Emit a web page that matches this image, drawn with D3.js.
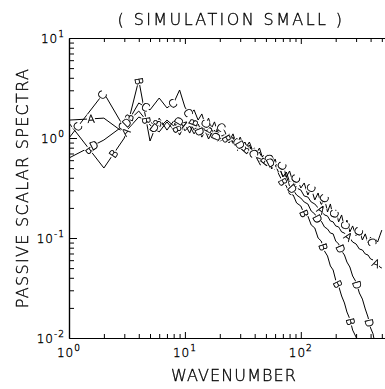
<!DOCTYPE html>
<html><head><meta charset="utf-8">
<script src="https://cdn.jsdelivr.net/npm/d3@7"></script>
<style>
html,body{margin:0;padding:0;background:#fff;overflow:hidden}
text{font-family:"DejaVu Sans",sans-serif;font-weight:200;fill:#000;stroke:#000;stroke-width:0.35px}
</style>
</head><body>
<svg id="c" width="385" height="389"></svg>
<script>
// ---------- data ----------
const wavenumber = [1,2,3,4,5,6,7,8,9,10,11,12,13,14,15,16,17,18,19,20,
  22,24,26,28,30,33,36,40,44,48,52,56,60,65,70,75,80,86,92,
  100,107,115,123,132,141,150,160,170,180,190,200,212,225,238,250,265,280,300,320,340,360,380,400,420,440,460,480,500];

const seriesA = [1.51,1.58,1.12,1.62,1.45,1.26,1.51,1.32,1.58,1.29,1.45,1.20,1.38,1.15,1.29,1.07,1.26,1.05,1.20,1.02,
  0.955,1.10,0.871,1.00,0.813,0.912,0.708,0.794,0.603,0.676,0.525,0.603,0.479,0.525,0.407,0.457,0.363,0.398,0.316,
  0.302,0.263,0.257,0.229,0.219,0.200,0.191,0.170,0.166,0.148,0.145,0.132,0.129,0.115,0.112,0.105,0.100,0.0912,0.0871,0.0776,0.0759,0.0692,0.0676,0.0617,0.0603,0.0562,0.0550,0.0513,0.0501];

const seriesB = [1.41,0.501,1.00,3.80,0.933,1.58,1.20,1.48,1.07,1.38,1.12,1.45,1.05,1.32,1.10,1.26,1.00,1.20,1.05,1.12,
  1.07,0.891,1.02,0.832,0.955,0.759,0.851,0.646,0.724,0.562,0.631,0.490,0.537,0.427,0.363,0.331,0.275,0.269,0.224,
  0.209,0.174,0.166,0.135,0.126,0.100,0.0933,0.0741,0.0661,0.0525,0.0479,0.0380,0.0331,0.0263,0.0224,0.0182,0.0155,0.0120,0.0102,0.00759,0.00603];

const seriesC = [1.00,2.82,1.26,2.24,1.91,2.51,2.00,2.24,3.02,2.04,1.70,1.91,1.51,1.74,1.35,1.58,1.26,1.45,1.18,1.32,
  1.18,0.912,1.10,0.851,1.02,0.776,0.912,0.661,0.794,0.575,0.692,0.501,0.617,0.457,0.550,0.407,0.468,0.355,0.407,
  0.316,0.355,0.269,0.316,0.240,0.282,0.214,0.251,0.182,0.219,0.162,0.191,0.145,0.170,0.126,0.151,0.115,0.132,0.105,0.120,0.0955,0.110,0.0891,0.102,0.0851,0.0977,0.0912,0.105,0.120];

const seriesD = [0.631,0.955,1.35,1.86,1.35,1.15,1.45,1.20,1.51,1.18,1.32,1.10,1.26,1.02,1.18,0.977,1.12,0.955,1.10,0.933,
  0.977,1.05,0.912,0.977,0.851,0.871,0.794,0.741,0.646,0.646,0.550,0.575,0.490,0.501,0.417,0.417,0.331,0.302,0.269,
  0.251,0.229,0.219,0.186,0.174,0.151,0.148,0.129,0.123,0.112,0.110,0.0933,0.0871,0.0741,0.0676,0.0575,0.0513,0.0417,0.0363,0.0282,0.0245,0.0195,0.0162,0.0126,0.0110,0.00832];

const seriesNames = ["A","B","C","D"];
const xMajorTicks = [1,10,100];
const xMajorExponents = ["0","1","2"];
const yMajorTicks = [0.01,0.1,1,10];
const yMajorExponents = ["-2","-1","0","1"];
const titleText = "( SIMULATION SMALL )";
const xLabelText = "WAVENUMBER";
const yLabelText = "PASSIVE SCALAR SPECTRA";

// ---------- layout ----------
const L = 69, T = 38, B = 338, R = 397;
const x = d3.scaleLog().domain([1, Math.pow(10, 2.83)]).range([L, R]);
const y = d3.scaleLog().domain([0.01, 10]).range([B, T]);
const svg = d3.select("#c");

function minors(decades, lo, hi){
  const out=[];
  decades.forEach(d=>{for(let j=2;j<=9;j++){const v=d*j; if(v>lo&&v<hi) out.push(v);}});
  return out;
}
const xMinor = minors([1,10,100],1,Math.pow(10,2.83));
const yMinor = minors([0.01,0.1,1],0.01,10);

function styleAxis(g){
  g.selectAll("path.domain").attr("stroke","#000").attr("stroke-width",1.2);
  g.selectAll(".tick line").attr("stroke","#000").attr("stroke-width",1);
  g.selectAll(".tick text").remove();
}
svg.append("g").attr("transform",`translate(0,${B})`)
  .call(d3.axisBottom(x).tickValues(xMinor).tickSizeInner(-4).tickSizeOuter(0).tickFormat("")).call(styleAxis);
svg.append("g").attr("transform",`translate(0,${B})`)
  .call(d3.axisBottom(x).tickValues(xMajorTicks.slice(1)).tickSizeInner(-6).tickSizeOuter(0).tickFormat("")).call(styleAxis);
svg.append("g").attr("transform",`translate(0,${T})`)
  .call(d3.axisTop(x).tickValues(xMinor).tickSizeInner(-4).tickSizeOuter(0).tickFormat("")).call(styleAxis);
svg.append("g").attr("transform",`translate(0,${T})`)
  .call(d3.axisTop(x).tickValues(xMajorTicks.slice(1)).tickSizeInner(-6).tickSizeOuter(0).tickFormat("")).call(styleAxis);
svg.append("g").attr("transform",`translate(${L},0)`)
  .call(d3.axisLeft(y).tickValues(yMinor).tickSizeInner(-5).tickSizeOuter(0).tickFormat("")).call(styleAxis);
svg.append("g").attr("transform",`translate(${L},0)`)
  .call(d3.axisLeft(y).tickValues(yMajorTicks.slice(1,3)).tickSizeInner(-8).tickSizeOuter(0).tickFormat("")).call(styleAxis);

// tick labels
const tickLayer = svg.append("g").style("opacity",0.999);
xMajorTicks.forEach((v,i)=>{
  const t = tickLayer.append("text").attr("x",x(v)).attr("y",B+19).attr("text-anchor","middle")
    .style("font-size","12px").style("letter-spacing","1px");
  t.append("tspan").text("10");
  t.append("tspan").attr("dy",-6).style("font-size","9px").text(xMajorExponents[i]);
});
yMajorTicks.forEach((v,i)=>{
  const t = tickLayer.append("text").attr("x",L-4).attr("y",y(v)+5).attr("text-anchor","end")
    .style("font-size","12px").style("letter-spacing","1px");
  t.append("tspan").text("10");
  t.append("tspan").attr("dy",-6).style("font-size","9px").text(yMajorExponents[i]);
});

// titles
const titleLayer = svg.append("g").style("opacity",0.999);
titleLayer.append("text").attr("x",231).attr("y",25).attr("text-anchor","middle")
  .style("font-size","16px").style("letter-spacing","2.4px").text(titleText);
titleLayer.append("text").attr("x",234).attr("y",381).attr("text-anchor","middle")
  .style("font-size","16px").style("letter-spacing","1.1px").text(xLabelText);
titleLayer.append("text").attr("transform",`translate(28,${(T+B)/2}) rotate(-90)`).attr("text-anchor","middle")
  .style("font-size","16px").style("letter-spacing","1.3px").text(yLabelText);

// curves
svg.append("clipPath").attr("id","clip").append("rect")
  .attr("x",L).attr("y",T).attr("width",R-L).attr("height",B-T);
const allSeries = [seriesA, seriesB, seriesC, seriesD];
const line = d3.line().x(d=>x(d[0])).y(d=>y(d[1]));
const plot = svg.append("g").attr("clip-path","url(#clip)");
const labelLayer = svg.append("g").attr("clip-path","url(#clip)").style("opacity",0.999);
const offsets=[22,34,14,28];
allSeries.forEach((s,si)=>{
  const pts = s.map((v,i)=>[wavenumber[i], v]);
  plot.append("path").datum(pts).attr("d",line).attr("fill","none").attr("stroke","#000").attr("stroke-width",1);
  const px = pts.map(p=>[x(p[0]), y(p[1])]);
  let acc=0, next=offsets[si];
  const spacing=40;
  for(let i=1;i<px.length;i++){
    const dx=px[i][0]-px[i-1][0], dy=px[i][1]-px[i-1][1];
    const len=Math.hypot(dx,dy);
    while(acc+len>=next){
      const t=(next-acc)/len;
      const cx=px[i-1][0]+dx*t, cy=px[i-1][1]+dy*t;
      if(cy>T && cy<B){
        const g = labelLayer.append("g").attr("transform",`translate(${cx},${cy}) rotate(${Math.atan2(dy,dx)*180/Math.PI})`);
        g.append("rect").attr("x",-4).attr("y",-4.5).attr("width",8).attr("height",9).attr("fill","#fff");
        g.append("text").attr("text-anchor","middle").attr("dy","0.36em")
          .style("font-size","11px").text(seriesNames[si]);
      }
      next+=spacing;
    }
    acc+=len;
  }
});
</script>
</body></html>
